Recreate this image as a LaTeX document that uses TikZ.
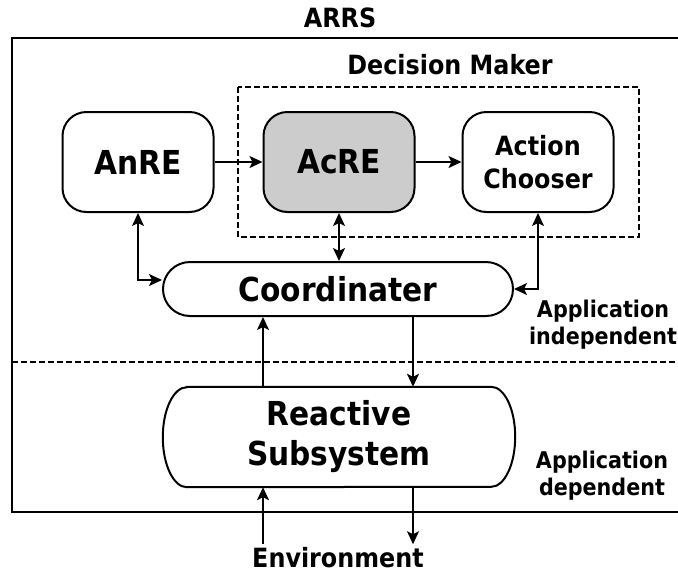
\documentclass[tikz,border=0pt]{standalone}
\usepackage{fontspec}
\setmainfont{DejaVu Sans}[FakeStretch=0.9]
\usepackage{tikz}
\usetikzlibrary{arrows.meta,shapes.misc}

\begin{document}
\begin{tikzpicture}[x=1pt,y=-1pt,
    box/.style={draw,line width=2pt,rounded corners=24pt,minimum width=151pt,minimum height=100pt,inner sep=0pt,align=center},
    pill/.style={draw,line width=2pt,rounded rectangle,minimum width=350pt,inner sep=0pt,align=center},
    big/.style={font=\bfseries\fontsize{33}{40}\selectfont},
    mid/.style={font=\bfseries\fontsize{26.5}{33}\selectfont},
    small/.style={font=\bfseries\fontsize{23}{27}\selectfont},
    link/.style={line width=1.8pt,-{Stealth[length=13pt,width=12pt,inset=3pt]}},
    both/.style={line width=1.8pt,{Stealth[length=13pt,width=12pt,inset=3pt]}-{Stealth[length=13pt,width=12pt,inset=3pt]}}]
    \useasboundingbox (0,0) rectangle (678,579);

    % Outer frame
    \draw[line width=2.6pt] (678,38) -- (12,38) -- (12,512) -- (678,512);
    \node[mid] (arrs) at (340,18) {ARRS};

    % Decision maker
    \draw[line width=1.6pt,dash pattern=on 6pt off 3pt] (238,87) rectangle (639,237);
    \node[mid] (dmlabel) at (450,65) {Decision Maker};

    % Boxes
    \node[box,big] (anre) at (138,162) {AnRE};
    \node[box,big,fill=gray!40] (acre) at (339,162) {AcRE};
    \node[box,mid] (chooser) at (538,162) {Action\\Chooser};

    % Coordinater and reactive part
    \node[pill,big,minimum height=54pt] (coord) at (338,289) {Coordinater};
    \node[big,align=center,minimum width=304pt,minimum height=100pt,inner sep=0pt] (reactive) at (339,437) {Reactive\\Subsystem};
    \draw[line width=2pt] (reactive.north west) -- (reactive.north east)
        arc[x radius=24,y radius=50,start angle=-90,end angle=90]
        -- (reactive.south west)
        arc[x radius=24,y radius=50,start angle=90,end angle=270] -- cycle;
    \node[mid] (env) at (338,558) {Environment};

    % Layer line
    \draw[line width=1.6pt,dash pattern=on 6pt off 3pt] (12,362) -- (678,362);
    \node[small,align=center] (indep) at (603,325) {Application\\independent};
    \node[small,align=center] (dep) at (602,476) {Application\\dependent};

    % Flow
    \draw[link] (anre) -- (acre);
    \draw[link] (acre) -- (chooser);
    \draw[both] (acre.south) -- (coord.north -| acre.south);
    \draw[both] (anre.south) |- ([yshift=9pt]coord.west);
    \draw[both] (chooser.south) |- (coord.east);
    \draw[link] (reactive.north -| 263,0) -- (coord.south -| 263,0);
    \draw[link] (coord.south -| 413,0) -- (reactive.north -| 413,0);
    \draw[link] (env.north -| 263,0) -- (reactive.south -| 263,0);
    \draw[link] (reactive.south -| 413,0) -- (env.north -| 413,0);
\end{tikzpicture}
\end{document}
